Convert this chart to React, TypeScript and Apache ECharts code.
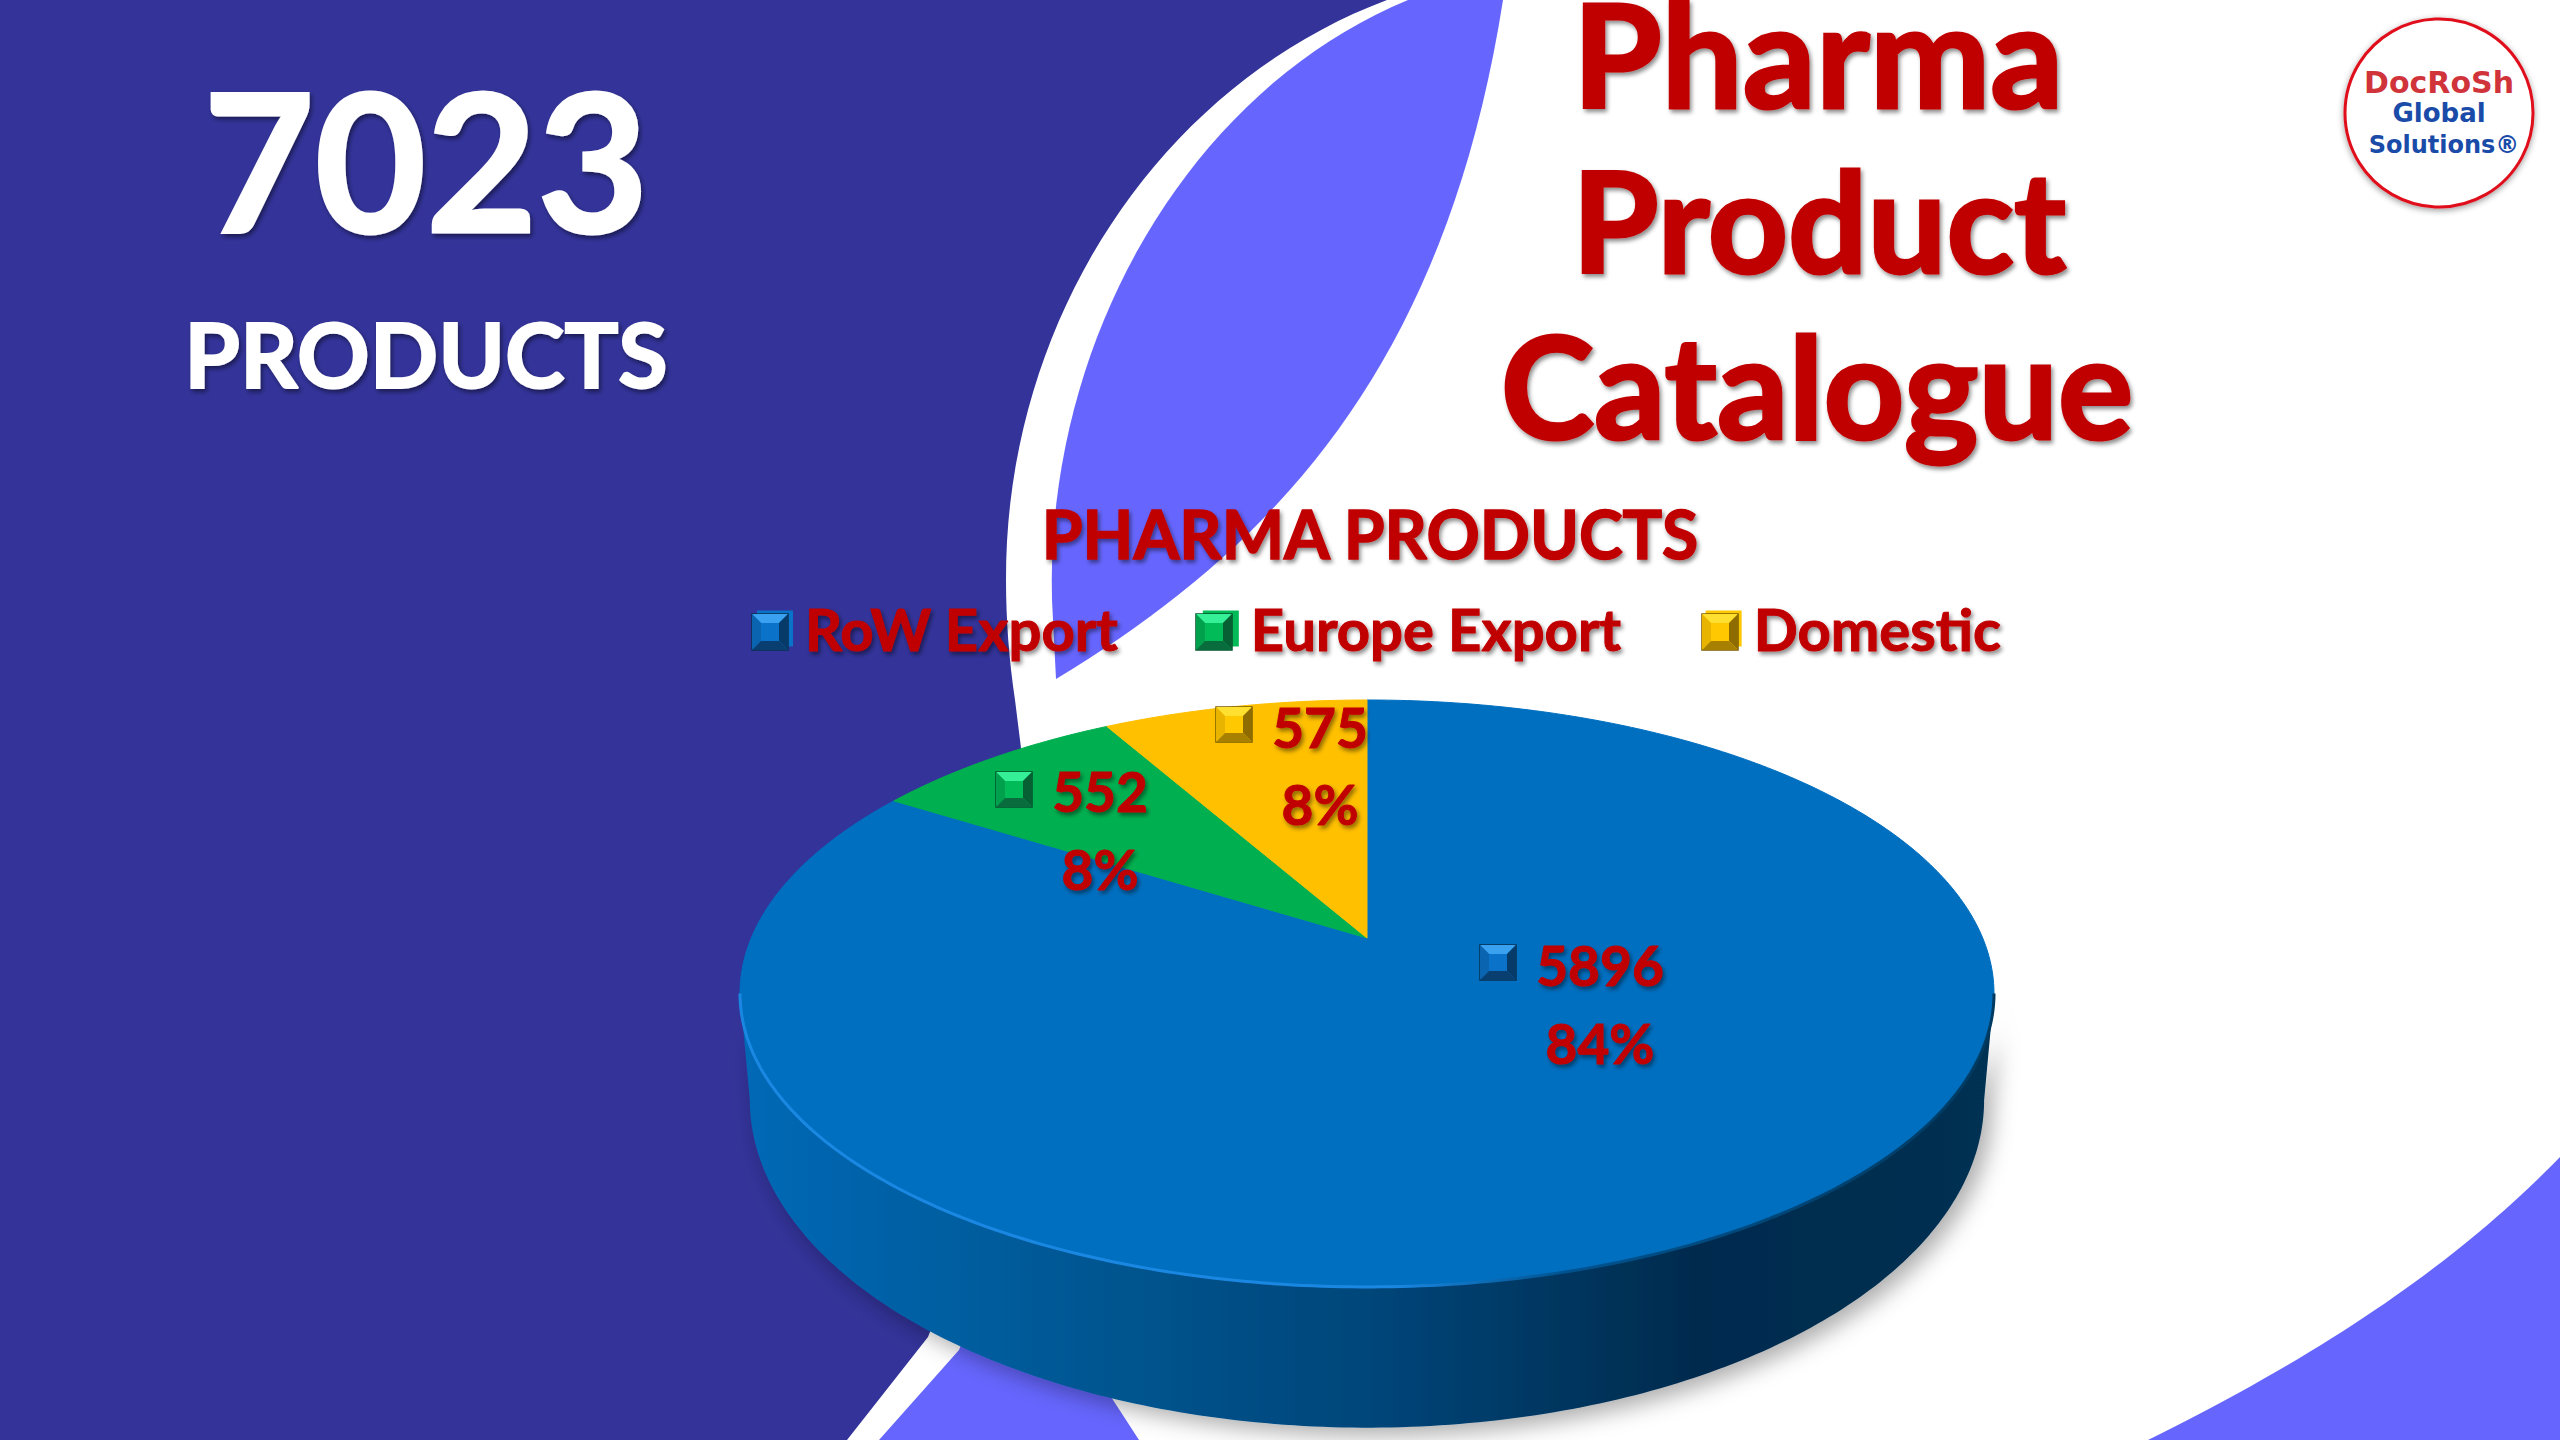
import React, { useEffect, useRef } from "react";
import * as echarts from "echarts";

const categories = ["RoW Export", "Europe Export", "Domestic"];
const productCounts = [5896, 552, 575];
const titleLines = ["Pharma", "Product", "Catalogue"];
const logoLines = ["DocRoSh", "Global", "Solutions®"];
const totalLabel = "7023";
const totalCaption = "PRODUCTS";
const chartTitle = "PHARMA PRODUCTS";

const RED = "#c00000";
const NAVY = "#333399";
const VIOLET = "#6666ff";
const sliceColors = ["#006fc0", "#00b050", "#ffc000"];
// bevel tones: face, top, left, right, bottom, border
const bevels = [
  ["#0a72c8", "#3aa0f0", "#0a64b0", "#063a68", "#083e70", "#063050"],
  ["#00bb58", "#36f098", "#00a04c", "#066034", "#086c3c", "#05502c"],
  ["#ffc800", "#ffe030", "#e8b400", "#8f6c00", "#a88000", "#7a5c00"],
];

// Pie geometry: perspective-projected discs for the top face and the base
const CX = 1367, K = 0.189;
const TOP = { cy: 938, a: 615.7, b: 283 };
const BASE = { cy: 1038, a: 606, b: 316 };
const project = (deg: number, d = TOP) => {
  const t = (deg * Math.PI) / 180;
  const w = 1 + K * Math.cos(t);
  return [CX + (d.a * Math.sin(t)) / w, d.cy - (d.b * Math.cos(t)) / w];
};
const arc = (a: number, b: number, d = TOP) => {
  const n = Math.max(2, Math.ceil(Math.abs(b - a) / 0.75));
  return Array.from({ length: n + 1 }, (_, i) => project(a + ((b - a) * i) / n, d));
};
const TANGENT = (Math.acos(-K) * 180) / Math.PI;

const bez = (p0: number[], p1: number[], p2: number[], p3: number[], n = 40) =>
  Array.from({ length: n + 1 }, (_, i) => {
    const t = i / n, m = 1 - t;
    return [0, 1].map((d) => m * m * m * p0[d] + 3 * m * m * t * p1[d] + 3 * m * t * t * p2[d] + t * t * t * p3[d]);
  });

const navyShape = [
  [0, 0],
  ...bez([1387, 0], [1160, 85], [1005, 320], [1006, 580]),
  ...bez([1006, 580], [1006, 620], [1009, 660], [1015, 700], 8),
  [1040, 900],
  [1020, 1100],
  [928, 1337],
  [847, 1440],
  [0, 1440],
];
const leafShape = [
  ...bez([1408, 0], [1190, 90], [1045, 340], [1052, 600]),
  [1056, 679],
  ...bez([1056, 679], [1270, 550], [1445, 370], [1503, 0]),
];
const lowerShape = [[879, 1440], [959, 1350], [1020, 1200], [1048, 1300], [1115, 1403], [1139, 1440]];
const cornerShape = [...bez([2148, 1440], [2330, 1350], [2460, 1260], [2560, 1157]), [2560, 1440]];

const FONT = "Lato";
const shadow = { textShadowColor: "rgba(0,0,0,0.45)", textShadowBlur: 4, textShadowOffsetX: 2, textShadowOffsetY: 3 };

const bevelIcon = (i: number, x: number, y: number, w: number, h: number) => {
  const e = Math.round(w * 0.24);
  const [face, top, left, right, bottom, border] = bevels[i];
  const poly = (points: number[][], fill: any) => ({ type: "polygon", z: 5, shape: { points }, style: { fill } });
  const x1 = x + w, y1 = y + h, xi = x + e, yi = y + e, xj = x1 - e, yj = y1 - e;
  return [
    { type: "rect", z: 5, shape: { x, y, width: w, height: h }, style: { fill: face, stroke: border, lineWidth: 1.5 } },
    poly([[x, y], [x1, y], [xj, yi], [xi, yi]], top),
    poly([[x, y], [xi, yi], [xi, yj], [x, y1]], left),
    poly([[x1, y], [xj, yi], [xj, yj], [x1, y1]], right),
    poly([[x, y1], [x1, y1], [xj, yj], [xi, yj]], bottom),
  ];
};

// Where each slice's icon and two label lines sit
const labelAnchors = [
  { iconX: 1480, iconY: 945, x: 1600, y1: 965, y2: 1043 },
  { iconX: 996, iconY: 772, x: 1100, y1: 791, y2: 869 },
  { iconX: 1216, iconY: 707, x: 1320, y1: 727, y2: 804 },
];
const legendIconX = [752, 1196, 1702];

const total = productCounts.reduce((a, b) => a + b, 0);

const labelText = (text: string, x: number, y: number) => ({
  type: "text",
  x,
  y,
  style: { text, x: 0, y: 0, fill: RED, stroke: RED, lineWidth: 1, fontFamily: FONT, fontWeight: "bold", fontSize: 55, align: "center", verticalAlign: "middle", ...shadow },
});

const renderSlice = (params: any, api: any) => {
  const i = params.seriesIndex;
  const value = api.value(0) as number;
  const before = productCounts.slice(0, i).reduce((a, b) => a + b, 0);
  const a0 = (before / total) * 360;
  const a1 = ((before + value) / total) * 360;
  const children: any[] = [];
  if (i === 0) {
    children.push({
      type: "polygon",
      shape: { points: [...arc(TANGENT, 360 - TANGENT, BASE), ...arc(360 - TANGENT, TANGENT)] },
      style: {
        fill: new echarts.graphic.LinearGradient(0, 0, 1, 0, [
          { offset: 0, color: "#0069b6" },
          { offset: 0.3, color: "#00558f" },
          { offset: 0.5, color: "#00467a" },
          { offset: 0.76, color: "#002b4e" },
          { offset: 1, color: "#003052" },
        ]),
        shadowColor: "rgba(0,0,0,0.32)",
        shadowBlur: 22,
        shadowOffsetX: 8,
        shadowOffsetY: 8,
      },
    });
  }
  children.push({
    type: "polygon",
    shape: { points: [[CX, TOP.cy], ...arc(a0, a1)] },
    style: { fill: sliceColors[i], stroke: sliceColors[i], lineWidth: 1 },
  });
  if (i === 0) {
    children.push({
      type: "polyline",
      shape: { points: arc(360 - TANGENT, TANGENT) },
      style: {
        fill: "none",
        lineWidth: 3,
        stroke: new echarts.graphic.LinearGradient(0, 0, 1, 0, [
          { offset: 0, color: "#1a88e2" },
          { offset: 0.52, color: "#1a88e2" },
          { offset: 0.66, color: "#00528f" },
          { offset: 1, color: "#003a60" },
        ]),
      },
    });
  }
  const pos = labelAnchors[i];
  children.push(...bevelIcon(i, pos.iconX, pos.iconY, 36, 35));
  children.push(labelText(String(value), pos.x, pos.y1));
  children.push(labelText(`${Math.round((value / total) * 100)}%`, pos.x, pos.y2));
  return { type: "group", children };
};

const bgText = (text: string, x: number, y: number, size: number, fill: string, extra: any = {}) => ({
  type: "text",
  z: 1,
  x,
  y,
  style: { text, fill, fontFamily: FONT, fontWeight: "bold", fontSize: size, align: "center", verticalAlign: "middle", ...shadow, ...extra },
});
const flat = { fontFamily: "DejaVu Sans", textShadowBlur: 0, textShadowOffsetX: 0, textShadowOffsetY: 0, textShadowColor: "transparent" };

export default function App() {
  const ref = useRef<HTMLDivElement>(null);
  useEffect(() => {
    const chart = echarts.init(ref.current!, null, { renderer: "svg" });
    chart.setOption({
      animation: false,
      backgroundColor: "#ffffff",
      title: {
        text: chartTitle,
        left: 1365,
        top: 495,
        textAlign: "center",
        textStyle: { color: RED, fontFamily: FONT, fontWeight: "bold", fontSize: 66, textBorderColor: RED, textBorderWidth: 1.5, ...shadow },
      },
      legend: {
        left: 752,
        top: 594,
        itemGap: 84,
        itemWidth: 36,
        itemHeight: 36,
        icon: "rect",
        selectedMode: false,
        textStyle: { color: RED, fontFamily: FONT, fontWeight: "bold", fontSize: 58, textBorderColor: RED, textBorderWidth: 1, padding: [0, 0, 0, 7], ...shadow },
        data: categories.map((name, i) => ({ name, itemStyle: { color: bevels[i][0] } })),
      },
      graphic: [
        { type: "polygon", z: 0, shape: { points: navyShape }, style: { fill: NAVY } },
        { type: "polygon", z: 0, shape: { points: leafShape }, style: { fill: VIOLET } },
        { type: "polygon", z: 0, shape: { points: lowerShape }, style: { fill: VIOLET } },
        { type: "polygon", z: 0, shape: { points: cornerShape }, style: { fill: VIOLET } },
        bgText(totalLabel, 426, 157, 192, "#ffffff", { stroke: "#ffffff", lineWidth: 3 }),
        bgText(totalCaption, 426, 353, 90, "#ffffff", { stroke: "#ffffff", lineWidth: 2 }),
        bgText(titleLines[0], 1818, 52, 144, RED, { stroke: RED, lineWidth: 3 }),
        bgText(titleLines[1], 1819, 219, 140, RED, { stroke: RED, lineWidth: 3 }),
        bgText(titleLines[2], 1817, 384, 141, RED, { stroke: RED, lineWidth: 3 }),
        { type: "circle", z: 1, shape: { cx: 2439, cy: 113, r: 94 }, style: { fill: "#ffffff", stroke: "#e0101a", lineWidth: 3, shadowColor: "rgba(0,0,0,0.4)", shadowBlur: 6, shadowOffsetY: 2 } },
        bgText(logoLines[0], 2439, 82, 30, "#d0343a", flat),
        bgText(logoLines[1], 2439, 113, 26, "#1a4ba8", flat),
        bgText(logoLines[2], 2444, 145, 24, "#1a4ba8", flat),
        ...legendIconX.flatMap((x, i) => bevelIcon(i, x, 614, 36, 36)),
      ],
      series: categories.map((name, i) => ({
        type: "custom",
        name,
        coordinateSystem: "none",
        clip: false,
        itemStyle: { color: sliceColors[i] },
        data: [[productCounts[i]]],
        renderItem: renderSlice,
        silent: true,
      })),
    });
    return () => chart.dispose();
  }, []);
  return <div ref={ref} style={{ position: "fixed", left: 0, top: 0, width: 2560, height: 1440 }} />;
}
